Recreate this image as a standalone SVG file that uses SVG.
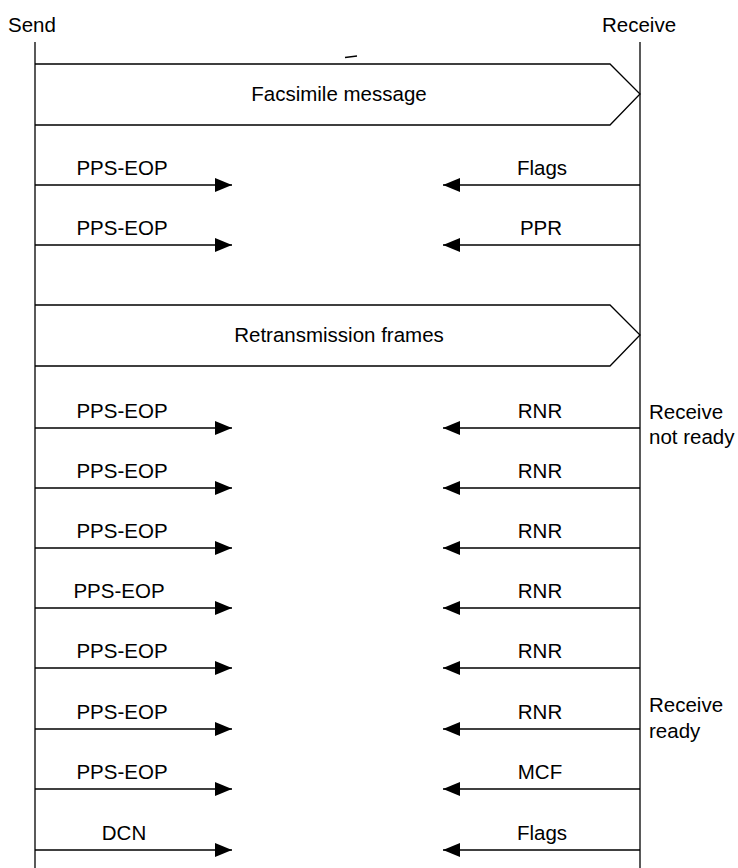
<svg xmlns="http://www.w3.org/2000/svg" width="738" height="868" viewBox="0 0 738 868">
<style>
.ln{stroke:#000;stroke-width:1.3;fill:none}
.t{font-family:"Liberation Sans",Arial,sans-serif;font-size:20.5px;fill:#000}
.m{text-anchor:middle}
</style>
<defs>
<marker id="ah" markerWidth="17" markerHeight="14" refX="17" refY="7" orient="auto" markerUnits="userSpaceOnUse">
<path d="M0,0 L17,7 L0,14 Z" fill="#000"/>
</marker>
</defs>
<rect width="738" height="868" fill="#fff"/>
<g id="lifelines">
<line class="ln" x1="35" y1="42" x2="35" y2="868"/>
<line class="ln" x1="640" y1="42" x2="640" y2="868"/>
<text class="t" x="8" y="32">Send</text>
<text class="t" x="602" y="32">Receive</text>
</g>
<g id="facsimile">
<path class="ln" d="M35,64 L610,64 L640,94 L610,125 L35,125"/>
<text class="t m" x="339" y="101">Facsimile message</text>
<line class="ln" x1="345" y1="57.5" x2="357" y2="56"/>
</g>
<g id="retransmission">
<path class="ln" d="M35,305 L610,305 L640,335 L610,366 L35,366"/>
<text class="t m" x="339" y="342">Retransmission frames</text>
</g>
<g id="notes">
<text class="t" x="649" y="419">Receive</text>
<text class="t" x="649" y="444">not ready</text>
<text class="t" x="649" y="712">Receive</text>
<text class="t" x="649" y="738">ready</text>
</g>
<g id="connectors">
<line class="ln" x1="35" y1="185" x2="232" y2="185" marker-end="url(#ah)"/>
<line class="ln" x1="640" y1="185" x2="443" y2="185" marker-end="url(#ah)"/>
<line class="ln" x1="35" y1="245" x2="232" y2="245" marker-end="url(#ah)"/>
<line class="ln" x1="640" y1="245" x2="443" y2="245" marker-end="url(#ah)"/>
<line class="ln" x1="35" y1="428" x2="232" y2="428" marker-end="url(#ah)"/>
<line class="ln" x1="640" y1="428" x2="443" y2="428" marker-end="url(#ah)"/>
<line class="ln" x1="35" y1="488" x2="232" y2="488" marker-end="url(#ah)"/>
<line class="ln" x1="640" y1="488" x2="443" y2="488" marker-end="url(#ah)"/>
<line class="ln" x1="35" y1="548" x2="232" y2="548" marker-end="url(#ah)"/>
<line class="ln" x1="640" y1="548" x2="443" y2="548" marker-end="url(#ah)"/>
<line class="ln" x1="35" y1="608" x2="232" y2="608" marker-end="url(#ah)"/>
<line class="ln" x1="640" y1="608" x2="443" y2="608" marker-end="url(#ah)"/>
<line class="ln" x1="35" y1="668" x2="232" y2="668" marker-end="url(#ah)"/>
<line class="ln" x1="640" y1="668" x2="443" y2="668" marker-end="url(#ah)"/>
<line class="ln" x1="35" y1="729" x2="232" y2="729" marker-end="url(#ah)"/>
<line class="ln" x1="640" y1="729" x2="443" y2="729" marker-end="url(#ah)"/>
<line class="ln" x1="35" y1="789" x2="232" y2="789" marker-end="url(#ah)"/>
<line class="ln" x1="640" y1="789" x2="443" y2="789" marker-end="url(#ah)"/>
<line class="ln" x1="35" y1="850" x2="232" y2="850" marker-end="url(#ah)"/>
<line class="ln" x1="640" y1="850" x2="443" y2="850" marker-end="url(#ah)"/>
</g>
<g id="labels">
<text class="t m" x="122" y="175">PPS-EOP</text>
<text class="t m" x="542" y="175">Flags</text>
<text class="t m" x="122" y="235">PPS-EOP</text>
<text class="t m" x="541" y="235">PPR</text>
<text class="t m" x="122" y="418">PPS-EOP</text>
<text class="t m" x="540" y="418">RNR</text>
<text class="t m" x="122" y="478">PPS-EOP</text>
<text class="t m" x="540" y="478">RNR</text>
<text class="t m" x="122" y="538">PPS-EOP</text>
<text class="t m" x="540" y="538">RNR</text>
<text class="t m" x="119" y="598">PPS-EOP</text>
<text class="t m" x="540" y="598">RNR</text>
<text class="t m" x="122" y="658">PPS-EOP</text>
<text class="t m" x="540" y="658">RNR</text>
<text class="t m" x="122" y="719">PPS-EOP</text>
<text class="t m" x="540" y="719">RNR</text>
<text class="t m" x="122" y="779">PPS-EOP</text>
<text class="t m" x="540" y="779">MCF</text>
<text class="t m" x="124" y="840">DCN</text>
<text class="t m" x="542" y="840">Flags</text>
</g>
</svg>
